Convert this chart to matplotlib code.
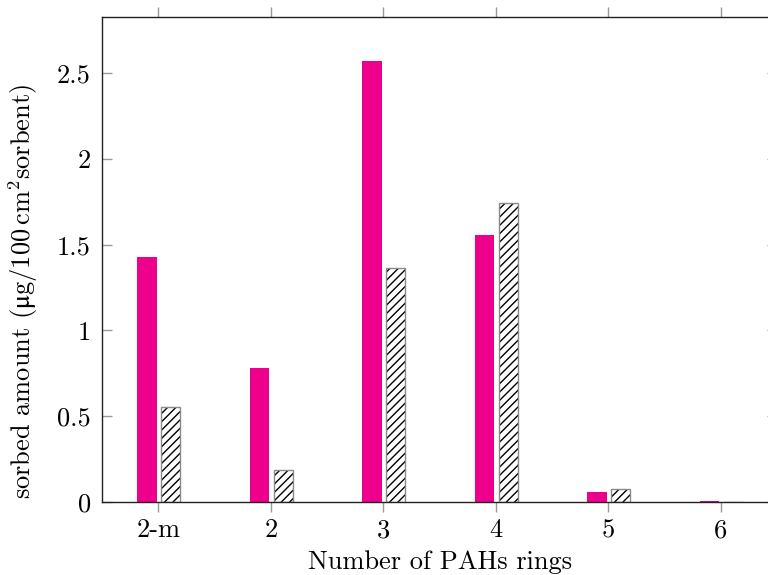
import matplotlib
matplotlib.use("Agg")
import matplotlib.pyplot as plt
import numpy as np

plt.rcParams['font.family'] = ['cmr10', 'DejaVu Serif']
plt.rcParams['mathtext.fontset'] = 'custom'
plt.rcParams['mathtext.rm'] = 'cmr10'
plt.rcParams['mathtext.it'] = 'cmmi10'
plt.rcParams['mathtext.fallback'] = 'stix'
plt.rcParams['hatch.linewidth'] = 1.0

categories = ['2-m', '2', '3', '4', '5', '6']
series_a = [1.43, 0.78, 2.57, 1.555, 0.058, 0.005]
series_b = [0.555, 0.186, 1.365, 1.742, 0.076, 0.002]
yticks = [0, 0.5, 1, 1.5, 2, 2.5]
ytick_labels = ['0', '0.5', '1', '1.5', '2', '2.5']

fig = plt.figure(figsize=(7.68, 5.75), dpi=100)
ax = fig.add_axes([102 / 768, 1 - 502 / 575, 675 / 768, 485 / 575])

x = np.arange(len(categories))
w = 0.17
ax.bar(x - 0.1, series_a, width=w, color='#EC008C', edgecolor='none')
# hatched bars: black hatch lines, grey outline drawn on top
ax.bar(x + 0.11, series_b, width=w, color='white', edgecolor='black',
       hatch='////', linewidth=0)
ax.bar(x + 0.11, series_b, width=w, fill=False, edgecolor='#8a8a8a',
       linewidth=1.0)

ax.set_xlim(-0.5, len(categories) - 0.5)
ax.set_ylim(0, 2.827)
ax.set_xticks(x)
ax.set_xticklabels(categories)
ax.set_yticks(yticks)
ax.set_yticklabels(ytick_labels)

ax.tick_params(axis='x', which='both', direction='out', length=7, width=1.0,
               color='#999999', top=True, labelsize=19, pad=5)
ax.tick_params(axis='y', which='both', direction='in', length=7, width=1.0,
               color='#999999', right=True, labelsize=19, pad=8)

for s in ax.spines.values():
    s.set_linewidth(1.0)
    s.set_color('#222222')

ax.set_xlabel('Number of PAHs rings', fontsize=19, labelpad=6)
ax.set_ylabel(r'sorbed amount $(\mathrm{\mu g}/100\,\mathrm{cm}^2\mathrm{sorbent})$',
              fontsize=19)
ax.yaxis.set_label_coords(-0.092, 0.435)

fig.savefig('out.png', dpi=100)
